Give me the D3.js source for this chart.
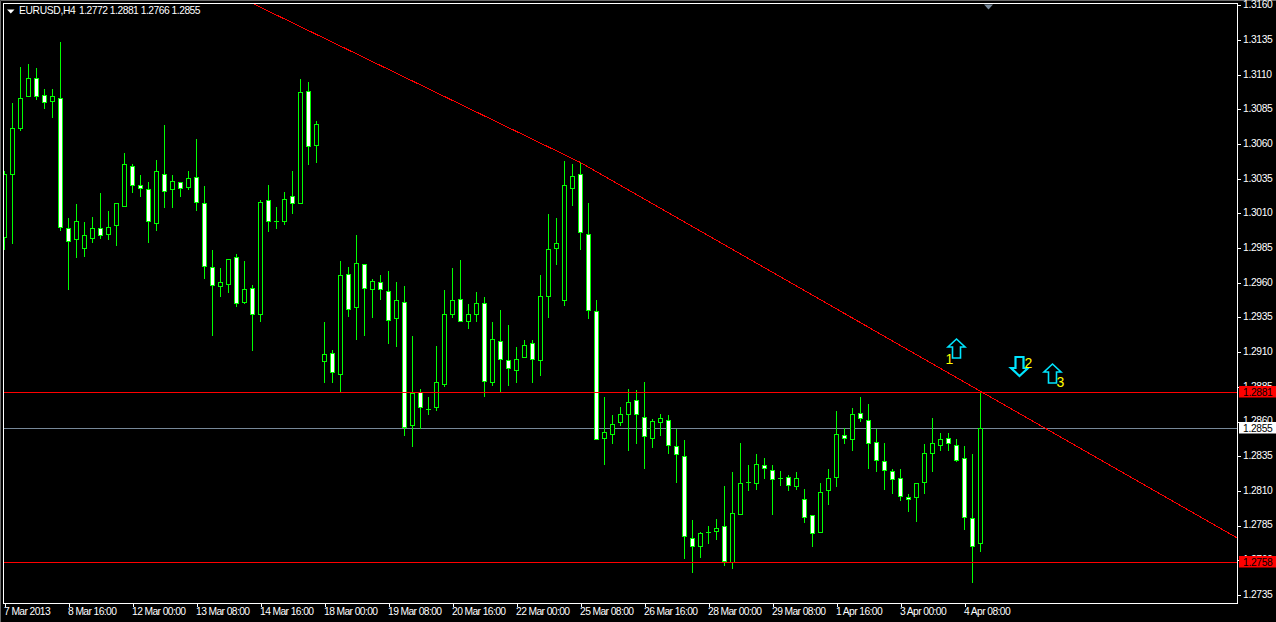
<!DOCTYPE html>
<html><head><meta charset="utf-8">
<style>
html,body{margin:0;padding:0;background:#000;overflow:hidden}
svg{display:block}
text{font-family:"Liberation Sans",sans-serif;font-size:10.3px;fill:#fff;letter-spacing:-.35px}
.x text{letter-spacing:-.6px}
.y .domain,.x .domain{display:none}
</style>
<script src="https://cdnjs.cloudflare.com/ajax/libs/d3/7.8.5/d3.min.js"></script>
</head><body>
<svg id="c" width="1276" height="622"></svg>
<script>
const opens=[1.2993,1.3038,1.3071,1.3094,1.3107,1.3095,1.3091,1.3093,1.2999,1.2991,
1.2985,1.2992,1.2999,1.2995,1.3001,1.3015,1.3044,1.3030,1.3027,1.3003,
1.3038,1.3027,1.3032,1.3029,1.3036,1.3017,1.2971,1.2957,1.2959,1.2978,
1.2946,1.2956,1.2937,1.3019,1.3004,1.3004,1.3022,1.3017,1.3098,1.3059,
1.2903,1.2909,1.2894,1.2966,1.2942,1.2973,1.2955,1.2960,1.2954,1.2934,
1.2946,1.2857,1.2881,1.2869,1.2870,1.2887,1.2937,1.2948,1.2932,1.2937,
1.2945,1.2888,1.2918,1.2904,1.2897,1.2906,1.2916,1.2904,1.2950,1.2985,
1.2947,1.3028,1.3038,1.2995,1.2939,1.2848,1.2851,1.2859,1.2865,1.2875,
1.2863,1.2848,1.2859,1.2861,1.2842,1.2835,1.2776,1.2770,1.2780,1.2781,
1.2784,1.2758,1.2793,1.2816,1.2815,1.2828,1.2825,1.2819,1.2820,1.2813,
1.2804,1.2792,1.2780,1.2810,1.2820,1.2850,1.2847,1.2866,1.2861,1.2845,
1.2831,1.2824,1.2819,1.2805,1.2805,1.2816,1.2837,1.2843,1.2848,1.2843,
1.2833,1.2790,1.2772];
const closes=[1.3038,1.3071,1.3093,1.3107,1.3094,1.3090,1.3094,1.3000,1.2990,1.3004,
1.2994,1.2999,1.2994,1.3000,1.3017,1.3045,1.3030,1.3028,1.3004,1.3040,
1.3026,1.3033,1.3028,1.3035,1.3018,1.2972,1.2958,1.2960,1.2977,1.2945,
1.2955,1.2937,1.3018,1.3004,1.3004,1.3020,1.3017,1.3097,1.3058,1.3074,
1.2908,1.2895,1.2965,1.2941,1.2974,1.2956,1.2961,1.2955,1.2933,1.2947,
1.2856,1.2880,1.2870,1.2869,1.2888,1.2937,1.2947,1.2932,1.2937,1.2945,
1.2889,1.2919,1.2905,1.2898,1.2905,1.2915,1.2905,1.2950,1.2984,1.2988,
1.3030,1.3037,1.2996,1.2940,1.2847,1.2852,1.2858,1.2865,1.2874,1.2865,
1.2849,1.2860,1.2862,1.2843,1.2836,1.2777,1.2770,1.2779,1.2780,1.2783,
1.2759,1.2794,1.2815,1.2816,1.2829,1.2826,1.2818,1.2819,1.2814,1.2819,
1.2791,1.2779,1.2809,1.2819,1.2851,1.2848,1.2865,1.2862,1.2844,1.2832,
1.2825,1.2818,1.2806,1.2804,1.2815,1.2837,1.2844,1.2847,1.2844,1.2832,
1.2791,1.2770,1.2855];
const highs=[1.3041,1.3090,1.3116,1.3118,1.3115,1.3100,1.3100,1.3134,1.3007,1.3017,
1.3004,1.3008,1.3025,1.3012,1.3017,1.3054,1.3046,1.3038,1.3033,1.3049,
1.3074,1.3038,1.3033,1.3041,1.3064,1.3030,1.2984,1.2971,1.2977,1.2981,
1.2976,1.2959,1.3020,1.3031,1.3015,1.3026,1.3041,1.3107,1.3105,1.3077,
1.2932,1.2912,1.2976,1.2972,1.2995,1.2974,1.2963,1.2966,1.2969,1.2961,
1.2958,1.2922,1.2884,1.2878,1.2915,1.2955,1.2971,1.2977,1.2945,1.2954,
1.2950,1.2932,1.2941,1.2930,1.2914,1.2919,1.2919,1.2966,1.3010,1.3007,
1.3048,1.3046,1.3047,1.3018,1.2948,1.2878,1.2865,1.2871,1.2884,1.2883,
1.2889,1.2862,1.2866,1.2865,1.2855,1.2847,1.2789,1.2781,1.2785,1.2790,
1.2814,1.2824,1.2845,1.2829,1.2837,1.2834,1.2829,1.2825,1.2822,1.2824,
1.2812,1.2793,1.2816,1.2826,1.2868,1.2856,1.2870,1.2878,1.2873,1.2855,
1.2845,1.2826,1.2826,1.2808,1.2816,1.2844,1.2863,1.2852,1.2852,1.2848,
1.2843,1.2837,1.2881];
const lows=[1.2984,1.2988,1.3070,1.3094,1.3092,1.3086,1.3079,1.2998,1.2955,1.2978,
1.2979,1.2989,1.2992,1.2991,1.2987,1.3015,1.3025,1.3022,1.2989,1.2998,
1.3014,1.3014,1.3022,1.3027,1.3012,1.2963,1.2922,1.2950,1.2953,1.2943,
1.2945,1.2911,1.2932,1.2997,1.2999,1.3002,1.3010,1.3017,1.3045,1.3047,
1.2888,1.2888,1.2881,1.2936,1.2919,1.2922,1.2935,1.2948,1.2916,1.2914,
1.2850,1.2842,1.2855,1.2865,1.2868,1.2885,1.2935,1.2932,1.2927,1.2932,
1.2878,1.2886,1.2882,1.2886,1.2888,1.2906,1.2888,1.2893,1.2935,1.2973,
1.2944,1.3016,1.2984,1.2934,1.2847,1.2829,1.2844,1.2857,1.2839,1.2844,
1.2826,1.2841,1.2850,1.2837,1.2816,1.2761,1.2751,1.2762,1.2772,1.2775,
1.2756,1.2754,1.2793,1.2810,1.2811,1.2819,1.2793,1.2814,1.2810,1.2811,
1.2787,1.2770,1.2780,1.2800,1.2813,1.2844,1.2839,1.2860,1.2826,1.2824,
1.2811,1.2808,1.2803,1.2795,1.2788,1.2808,1.2824,1.2839,1.2839,1.2831,
1.2782,1.2744,1.2766];
const xTickBars=[0,8,16,24,32,40,48,56,64,72,80,88,96,104,112,120];
const xTickLabels=["7 Mar 2013","8 Mar 16:00","12 Mar 00:00","13 Mar 08:00","14 Mar 16:00","18 Mar 00:00","19 Mar 08:00","20 Mar 16:00","22 Mar 00:00","25 Mar 08:00","26 Mar 16:00","28 Mar 00:00","29 Mar 08:00","1 Apr 16:00","3 Apr 00:00","4 Apr 08:00"];
const yTickValues=d3.range(0,18).map(k=>+(1.2735+k*0.0025).toFixed(4));
const redLevels=[1.2881,1.2758];
const lastPrice=1.2855;
const trendBars=[30.9,71.9,154.1];
const trendPrices=[1.31617,1.30470,1.27760];
const arrowBars=[118.9,126.8,130.9];
const arrowPrices=[1.2913,1.2900,1.2895];
const arrowDirs=[1,-1,1];
const arrowLabels=["1","2","3"];
const title="EURUSD,H4";
const ohlcText="1.2772 1.2881 1.2766 1.2855";

const L=3,T=3,R=1237,B=603;
const svg=d3.select("#c");
const x=d3.scaleLinear().domain([0,122]).range([4.5,980.5]);
const y=d3.scaleLinear().domain([1.2735,1.3160]).range([594.9,5.4]);
const sy=p=>Math.floor(y(p))+.5;
const green="#00ff00",white="#ffffff",red="#ff0000",slate="#778899";

svg.append("clipPath").attr("id","plot").append("rect").attr("x",L).attr("y",T).attr("width",R-L).attr("height",B-T);
svg.append("path").attr("d","M0.5 622V0.5H1276").attr("fill","none").attr("stroke","#6a6a6a");
const g=svg.append("g").attr("clip-path","url(#plot)").attr("shape-rendering","crispEdges");
g.append("line").attr("x1",L).attr("x2",R).attr("y1",sy(lastPrice)).attr("y2",sy(lastPrice)).attr("stroke",slate);
const idx=d3.range(opens.length);
g.selectAll(".w").data(idx).join("line").attr("class","w")
 .attr("x1",x).attr("x2",x).attr("y1",i=>sy(highs[i])).attr("y2",i=>sy(lows[i])+.5).attr("stroke",green);
g.selectAll(".b").data(idx).join("rect").attr("class","b")
 .attr("x",i=>x(i)-2).attr("width",4)
 .attr("y",i=>sy(Math.max(opens[i],closes[i])))
 .attr("height",i=>sy(Math.min(opens[i],closes[i]))-sy(Math.max(opens[i],closes[i])))
 .attr("fill",i=>closes[i]>opens[i]?"#000":white).attr("stroke",green);
g.selectAll(".d").data(idx.filter(i=>opens[i]===closes[i])).join("line").attr("class","d")
 .attr("x1",i=>x(i)-2.5).attr("x2",i=>x(i)+2.5).attr("y1",i=>sy(opens[i])).attr("y2",i=>sy(opens[i])).attr("stroke",green);
g.selectAll(".lv").data(redLevels).join("line").attr("class","lv")
 .attr("x1",L).attr("x2",R).attr("y1",sy).attr("y2",sy).attr("stroke",red);
g.append("path").attr("fill","none").attr("stroke",red)
 .attr("d",d3.line().x(d=>x(d[0])).y(d=>y(d[1]))(trendBars.map((b,i)=>[b,trendPrices[i]])));

const arrowShape=d=>{const h=8.5,s=4,t=9.5*d,m=-1.5*d;
 return `M0 ${-t}L${h} ${m}H${s}V${t}H${-s}V${m}H${-h}Z`;};
const ag=svg.append("g");
arrowBars.forEach((b,i)=>{
 const cx=Math.round(x(b))+.5, cy=Math.round(y(arrowPrices[i]))+.5;
 const sw=i===1?2.2:1.6;
 ag.append("path").attr("d",arrowShape(arrowDirs[i])).attr("transform",`translate(${cx},${cy})`)
  .attr("fill","none").attr("stroke","#00e5ff").attr("stroke-width",sw).attr("stroke-linejoin","miter");
 const off=[[-11,15],[5,1],[4,13]][i];
 ag.append("text").attr("x",cx+off[0]).attr("y",cy+off[1]).text(arrowLabels[i])
  .style("font-size","14px").style("fill","#ffff00").style("letter-spacing","0");
});

const fr=svg.append("g").attr("shape-rendering","crispEdges");
fr.append("path").attr("d",`M${L+.5} ${B+.5}V${T+.5}H${R+.5}V${B+.5}H${L+.5}`).attr("fill","none").attr("stroke",white);
svg.append("path").attr("d","M984 4.5H993L988.5 9.5Z").attr("fill",slate);

const ay=svg.append("g").attr("class","y").attr("transform",`translate(${R+.5},0)`)
 .call(d3.axisRight(y).tickValues(yTickValues).tickFormat(d3.format(".4f")).tickSize(3).tickPadding(3));
ay.selectAll("line").attr("stroke",white).attr("shape-rendering","crispEdges");
ay.selectAll("text").attr("dy","0.32em").attr("x",5.5).attr("y",-1);
const ax=svg.append("g").attr("class","x").attr("transform",`translate(0,${B+.5})`)
 .call(d3.axisBottom(x).tickValues(xTickBars).tickFormat((d,i)=>xTickLabels[i]).tickSize(3));
ax.selectAll("line").attr("stroke",white).attr("shape-rendering","crispEdges");
ax.selectAll("text").attr("text-anchor","start").attr("x",-1).attr("y",4.5).attr("dy","0.71em");

const tags=[[redLevels[0],red],[lastPrice,white],[redLevels[1],red]];
tags.forEach(([p,c])=>{
 const py=Math.floor(y(p));
 svg.append("rect").attr("x",1239).attr("y",py-6).attr("width",37).attr("height",11.5).attr("fill",c);
 svg.append("text").attr("x",1243).attr("y",py).attr("dy","0.34em").text(d3.format(".4f")(p)).style("fill","#000");
});

svg.append("path").attr("d","M7 9.5H14.5L10.75 13.5Z").attr("fill",white);
svg.append("text").attr("x",19).attr("y",14).text(title);
svg.append("text").attr("x",79).attr("y",14).text(ohlcText).style("letter-spacing","-.5px");
</script>
</body></html>
